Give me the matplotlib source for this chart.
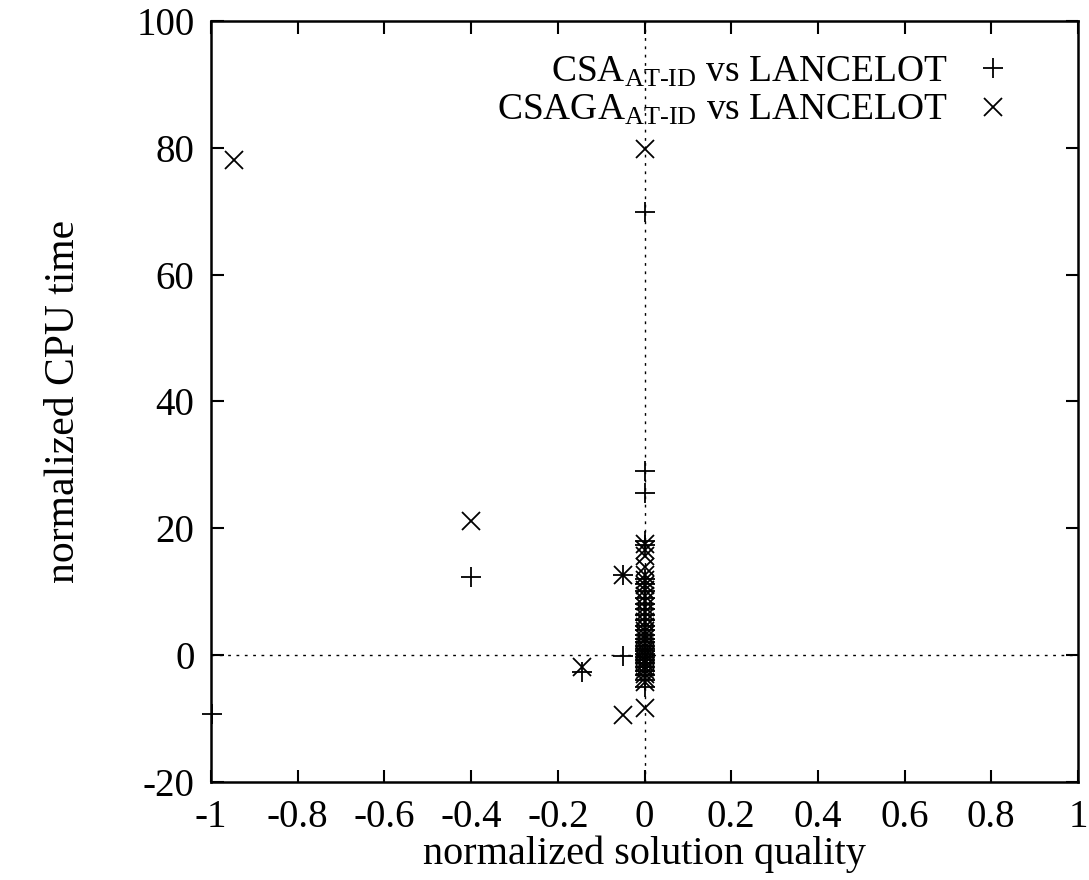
import matplotlib
matplotlib.use("Agg")
import matplotlib.pyplot as plt

plt.rcParams['font.family'] = ['Liberation Serif', 'DejaVu Serif']
plt.rcParams['mathtext.fontset'] = 'custom'
plt.rcParams['mathtext.rm'] = 'Liberation Serif'
plt.rcParams['mathtext.it'] = 'Liberation Serif:italic'
plt.rcParams['axes.unicode_minus'] = False

# CSA_AT-ID vs LANCELOT  (plus markers)
csa_x = [-0.998, -0.40, -0.145, -0.05, -0.05,
         0, 0, 0, 0, 0, 0, 0, 0, 0, 0, 0, 0, 0, 0, 0, 0, 0, 0, 0, 0,
         0, 0, 0, 0, 0, 0, 0, 0, 0, 0]
csa_y = [-9.3, 12.3, -2.7, -0.2, 12.7,
         69.9, 29.1, 25.5, 18.0, 17.3, 12.0, 11.2, 10.1, 9.0, 8.0, 7.2, 6.3,
         5.5, 4.6, 3.9, 3.2, 2.6, 2.0, 1.5, 1.0, 0.6, 0.2, -0.3, -0.8, -1.3,
         -1.9, -2.5, -3.2, -4.0, -5.0]

# CSAGA_AT-ID vs LANCELOT  (cross markers)
csaga_x = [-0.947, -0.40, -0.145, -0.05, -0.05,
           0, 0, 0, 0, 0, 0, 0, 0, 0, 0, 0, 0, 0, 0, 0, 0, 0, 0, 0, 0,
           0, 0, 0, 0, 0, 0, 0, 0, 0, 0, 0, 0]
csaga_y = [78.0, 21.1, -1.9, 12.7, -9.5,
           79.8, 17.6, 16.5, 15.6, 13.9, 12.7, 11.8, 11.0, 10.2, 9.3, 8.5, 7.6,
           6.8, 6.0, 5.2, 4.5, 3.8, 3.1, 2.5, 1.9, 1.3, 0.8, 0.3, -0.2, -0.7,
           -1.2, -1.8, -2.4, -3.0, -3.6, -4.3, -8.3]

xticks = [-1, -0.8, -0.6, -0.4, -0.2, 0, 0.2, 0.4, 0.6, 0.8, 1]
xticklabels = ['-1', '-0.8', '-0.6', '-0.4', '-0.2', '0', '0.2', '0.4', '0.6', '0.8', '1']
yticks = [-20, 0, 20, 40, 60, 80, 100]

fig = plt.figure(figsize=(10.89, 8.8), dpi=100)
ax = fig.add_axes([0.1938, 0.1114, 0.7961, 0.8648])

ax.axhline(0, color='black', lw=1.0, ls=(0, (2, 4)))
ax.axvline(0, color='black', lw=1.0, ls=(0, (2, 4)))

ax.plot(csa_x, csa_y, ls='none', marker='+', ms=14, mew=1.3, color='black',
        label=r'CSA$_{\text{AT-ID}}$ vs LANCELOT', clip_on=False)
ax.plot(csaga_x, csaga_y, ls='none', marker='x', ms=13, mew=1.3, color='black',
        label=r'CSAGA$_{\text{AT-ID}}$ vs LANCELOT', clip_on=False)

ax.set_xlim(-1, 1)
ax.set_ylim(-20, 100)
ax.set_xticks(xticks)
ax.set_xticklabels(xticklabels)
ax.set_yticks(yticks)
ax.tick_params(direction='in', top=True, right=True, length=9, width=1.5,
               labelsize=28, pad=12)
for s in ax.spines.values():
    s.set_linewidth(1.8)

ax.set_xlabel('normalized solution quality', fontsize=29, labelpad=0)
ax.set_ylabel('normalized CPU time', fontsize=30, labelpad=38)

ax.legend(loc='upper right', frameon=False, markerfirst=False, fontsize=27,
          handlelength=1.2, handletextpad=0.6, borderaxespad=0.0,
          labelspacing=0.1, borderpad=0.2,
          bbox_to_anchor=(0.937, 0.965))

fig.savefig('out.png', dpi=100)
